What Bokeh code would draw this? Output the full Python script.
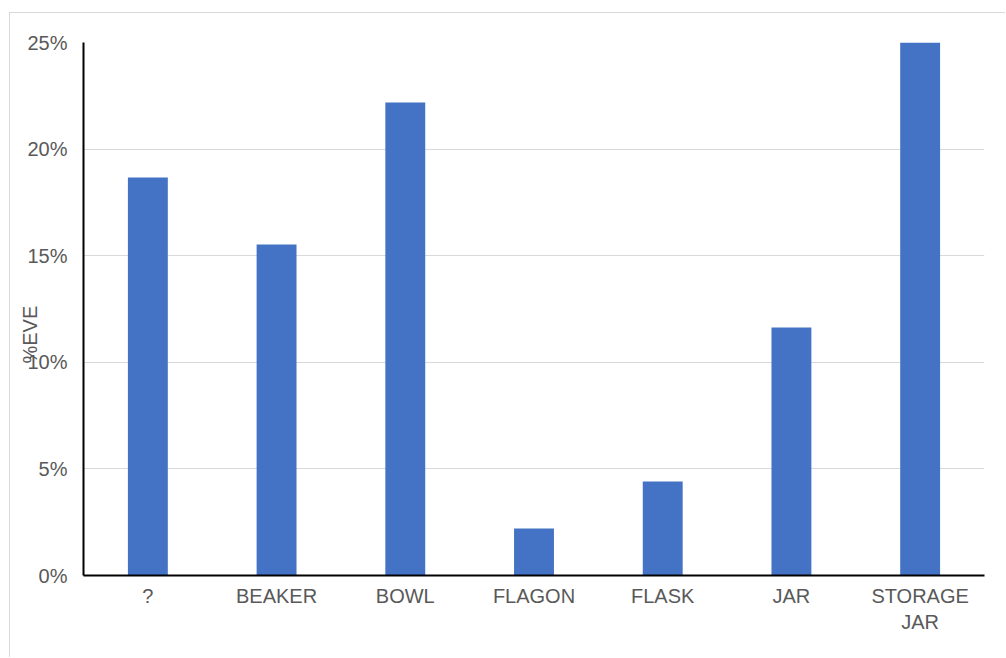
from bokeh.plotting import figure
from bokeh.models import (ColumnDataSource, FactorRange, Range1d, FixedTicker,
                          PrintfTickFormatter, Title)
from bokeh.embed import file_html
from bokeh.resources import INLINE

# Vessel types and their share of estimated vessel equivalents (%EVE)
categories = ["?", "BEAKER", "BOWL", "FLAGON", "FLASK", "JAR", "STORAGE\nJAR"]
eve_pct = [18.67, 15.53, 22.19, 2.2, 4.41, 11.63, 25.0]
y_ticks = [0, 5, 10, 15, 20, 25]

FONT = "Liberation Sans"
TEXT = "#595959"
GRID = "#d9d9d9"
BAR = "#4472C4"

src = ColumnDataSource(data=dict(cat=categories, val=eve_pct))

# chart box sits 10px in and 13px down, running past the right and bottom
p = figure(
    width=996, height=645,
    x_range=FactorRange(factors=categories, range_padding=0),
    y_range=Range1d(0, 25),
    output_backend="svg", toolbar_location=None,
    min_border_left=73, min_border_right=22,
    min_border_top=29, min_border_bottom=83,
    margin=(12, 0, 0, 9),
    styles={"border-left": f"1px solid {GRID}", "border-top": f"1px solid {GRID}"},
)
p.outline_line_color = None
p.background_fill_color = "white"
p.border_fill_color = "white"

p.vbar(x="cat", top="val", width=0.31, source=src,
       fill_color=BAR, line_color=None)

p.xgrid.grid_line_color = None
p.ygrid.grid_line_color = GRID
p.ygrid.grid_line_width = 1

p.yaxis.ticker = FixedTicker(ticks=y_ticks)
p.yaxis.formatter = PrintfTickFormatter(format="%d%%")
p.yaxis.major_label_standoff = 10

for ax in (p.xaxis, p.yaxis):
    ax.axis_line_color = "black"
    ax.axis_line_width = 2
    ax.major_tick_line_color = None
    ax.minor_tick_line_color = None
    ax.major_label_text_font = FONT
    ax.major_label_text_font_size = "20px"
    ax.major_label_text_color = TEXT

p.xaxis.major_label_standoff = 3

# vertical axis title in the left panel, tucked against the tick labels
# and raised from the frame's bottom to the middle of the chart box
p.add_layout(Title(text="%EVE", align="left", vertical_align="bottom",
                   offset=212, standoff=-32,
                   text_font=FONT, text_font_size="20px",
                   text_font_style="normal", text_color=TEXT), "left")

open("out.html", "w").write(file_html(p, INLINE))
